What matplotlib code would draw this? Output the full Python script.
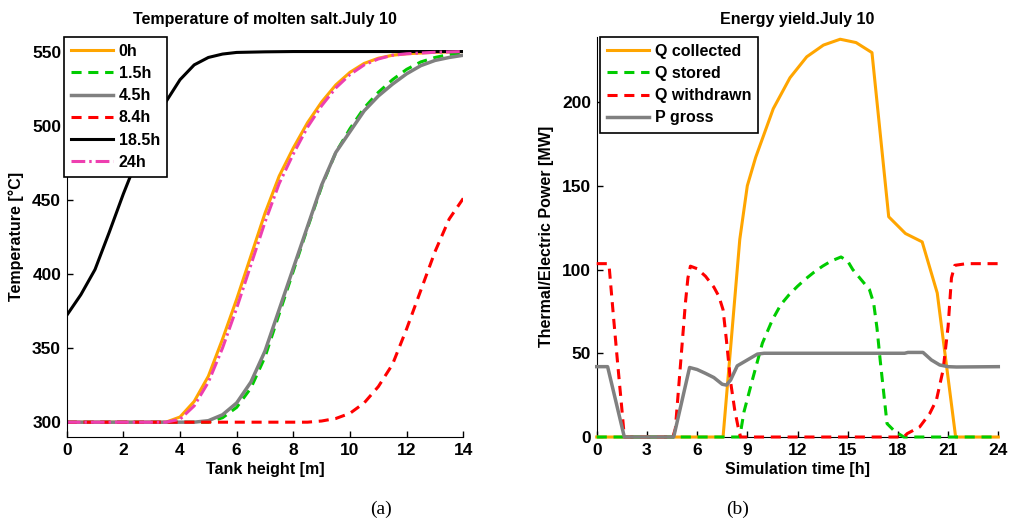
# Temperature profiles of molten salt and energy yield, July 10
import matplotlib
matplotlib.use("Agg")
from matplotlib import pyplot as plt

# ---- panel (a): tank temperature profiles ----
h_0h = [0, 1, 2, 3, 3.5, 4.0, 4.5, 5.0, 5.5, 6.0, 6.5, 7.0, 7.5, 8.0, 8.5, 9.0, 9.5,
        10.0, 10.5, 11.0, 11.5, 12.0, 13.0, 14.0]
t_0h = [300, 300, 300, 300, 300, 303.5, 314, 331, 356, 383, 412, 441, 466, 485, 502, 516, 527.5,
        536, 542, 545.5, 547.5, 548.5, 549.5, 550]

h_1p5h = [0, 2, 4, 5.0, 5.5, 6.0, 6.5, 7.0, 7.5, 8.0, 8.5, 9.0, 9.5, 10.0, 10.5, 11.0, 11.5,
          12.0, 12.5, 13.0, 13.5, 14.0]
t_1p5h = [300, 300, 300, 300, 303, 310, 323, 344, 373, 402, 431, 459, 482, 498, 512, 522.5, 531,
          538, 543, 546, 548, 549]

h_4p5h = [0, 2, 4, 4.5, 5.0, 5.5, 6.0, 6.5, 7.0, 7.5, 8.0, 8.5, 9.0, 9.5, 10.0, 10.5, 11.0, 11.5,
          12.0, 12.5, 13.0, 13.5, 14.0]
t_4p5h = [300, 300, 300, 300, 301, 305, 313, 327, 348, 376, 404, 432, 460, 482, 496, 510, 520, 528,
          535, 540.5, 544, 546, 547.5]

h_8p4h = [0, 2, 4, 6, 8, 8.5, 9.0, 9.5, 10.0, 10.5, 11.0, 11.5, 12.0, 12.5, 13.0, 13.5, 14.0]
t_8p4h = [300, 300, 300, 300, 300, 300, 300.8, 302.5, 306, 313, 324, 339, 363, 389, 415, 437, 451]

h_18p5h = [0, 0.5, 1.0, 1.5, 2.0, 2.5, 3.0, 3.5, 4.0, 4.5, 5.0, 5.5, 6.0, 7.0, 8.0, 10.0, 12.0, 14.0]
t_18p5h = [372, 386, 403, 428, 454, 478, 497, 516, 531, 541, 546, 548.3, 549.4, 549.8, 550, 550, 550, 550]

h_24h = [0, 1, 2, 3, 3.5, 4.0, 4.5, 5.0, 5.5, 6.0, 6.5, 7.0, 7.5, 8.0, 8.5, 9.0, 9.5,
         10.0, 10.5, 11.0, 11.5, 12.0, 13.0, 14.0]
t_24h = [300, 300, 300, 300, 300, 302, 311, 327, 350, 377, 406, 435, 461, 481, 499, 513.5, 525.5,
         534.5, 541, 545, 547.5, 548.5, 549.5, 550]

# ---- panel (b): energy yield ----
time_col = [0, 7.55, 8.55, 9.0, 9.5, 10.55, 11.55, 12.55, 13.55, 14.55, 15.5, 16.45, 17.45,
            18.45, 19.45, 20.35, 21.45, 24]
q_col = [0, 0, 118, 150, 167, 196, 214.5, 227, 234, 237.5, 235.5, 229.5, 131.5,
         121.5, 116.5, 86, 0, 0]

time_sto = [0, 8.55, 8.8, 9.3, 9.9, 10.5, 11.0, 11.5, 12.0, 12.5, 13.0, 13.5, 14.0, 14.6, 15.0,
            15.3, 15.8, 16.3, 16.55, 16.75, 16.95, 17.35, 17.8, 18.35, 24]
q_sto = [0, 0, 15, 34, 56, 70, 79, 85, 90, 94.5, 98.5, 102, 105, 107.5, 105,
         100, 94, 88, 80, 65, 45, 8, 3.5, 0, 0]

time_wd = [0, 0.7, 0.75, 1.0, 1.25, 1.5, 1.65, 4.55, 4.7, 4.9, 5.1, 5.3, 5.45, 5.6, 6.0, 6.5,
           7.0, 7.3, 7.55, 7.75, 8.0, 8.25, 8.45, 8.6, 18.35, 18.55, 19.3, 19.9, 20.3, 20.7,
           21.0, 21.2, 21.4, 22.1, 24]
q_wd = [103.5, 103.5, 101, 72, 44, 17, 0, 0, 5, 30, 55, 80, 95, 102, 100.5, 96,
        89.5, 84, 76, 58, 33, 16, 6, 0, 0, 2, 6, 14, 22, 40,
        66, 95, 102.5, 103.5, 103.5]

time_p = [0, 0.65, 1.65, 4.6, 5.55, 6.0, 6.5, 7.0, 7.5, 7.75, 8.0, 8.4, 9.0, 9.6, 10.0,
          18.4, 18.6, 19.5, 20.0, 20.5, 21.0, 21.5, 24]
p_gross = [42, 42, 0, 0, 41.5, 40.3, 38, 35.5, 31.5, 31, 34, 42.5, 46, 49.5, 50,
           50, 50.5, 50.5, 46, 43, 42, 41.8, 42]

x_ticks_b = [0, 3, 6, 9, 12, 15, 18, 21, 24]

font = 'Liberation Sans'
plt.rcParams['font.family'] = [font, 'DejaVu Sans']
plt.rcParams['font.weight'] = 'bold'

lw = 2.2
dash = (0, (3.3, 2.2))
dashdot = (0, (4.5, 1.3, 0.8, 1.3))

fig = plt.figure(figsize=(10.09, 5.2), dpi=100)
ax1 = fig.add_axes([0.0661, 0.1596, 0.3931, 0.7698])
ax2 = fig.add_axes([0.5914, 0.1596, 0.3980, 0.7698])

ax1.plot(h_0h, t_0h, color='#FFA500', lw=lw, label='0h')
ax1.plot(h_1p5h, t_1p5h, color='#00CC00', lw=lw, ls=dash, label='1.5h')
ax1.plot(h_4p5h, t_4p5h, color='#808080', lw=lw + 0.3, label='4.5h')
ax1.plot(h_8p4h, t_8p4h, color='#FF0000', lw=lw, ls=dash, label='8.4h')
ax1.plot(h_18p5h, t_18p5h, color='black', lw=lw, label='18.5h')
ax1.plot(h_24h, t_24h, color='#EE3FB0', lw=lw, ls=dashdot, label='24h')

ax1.set_xlim(0, 14)
ax1.set_ylim(290, 560)
ax1.set_xticks(range(0, 15, 2))
ax1.set_yticks(range(300, 551, 50))
ax1.set_xlabel('Tank height [m]', fontsize=11.5, fontweight='bold', labelpad=3)
ax1.set_ylabel('Temperature [°C]', fontsize=11.5, fontweight='bold', labelpad=6)
ax1.set_title('Temperature of molten salt.July 10', fontsize=11.5, fontweight='bold', pad=9)

ax2.plot(time_col, q_col, color='#FFA500', lw=lw, label='Q collected', clip_on=False, zorder=3)
ax2.plot(time_sto, q_sto, color='#00CC00', lw=lw, ls=dash, label='Q stored', clip_on=False, zorder=3)
ax2.plot(time_wd, q_wd, color='#FF0000', lw=lw, ls=dash, label='Q withdrawn', clip_on=False, zorder=3)
ax2.plot(time_p, p_gross, color='#808080', lw=lw + 0.3, label='P gross', clip_on=False, zorder=3)

ax2.set_xlim(0, 24)
ax2.set_ylim(0, 239)
ax2.set_xticks(x_ticks_b)
ax2.set_yticks([0, 50, 100, 150, 200])
ax2.set_xlabel('Simulation time [h]', fontsize=11.5, fontweight='bold', labelpad=3)
ax2.set_ylabel('Thermal/Electric Power [MW]', fontsize=11.5, fontweight='bold', labelpad=6)
ax2.set_title('Energy yield.July 10', fontsize=11.5, fontweight='bold', pad=9)

for ax in (ax1, ax2):
    ax.spines['top'].set_visible(False)
    ax.spines['right'].set_visible(False)
    ax.tick_params(direction='in', length=4, width=1, labelsize=12.5, pad=4)
    for lab in ax.get_xticklabels() + ax.get_yticklabels():
        lab.set_fontweight('bold')

leg_kw = dict(frameon=True, fancybox=False, framealpha=1, edgecolor='black',
              fontsize=11.5, handlelength=2.6, handletextpad=0.38, labelspacing=0.45,
              borderpad=0.45, borderaxespad=0, loc='upper left')
l1 = ax1.legend(bbox_to_anchor=(-0.007, 1.0), **leg_kw)
l2 = ax2.legend(bbox_to_anchor=(0.008, 1.0), **leg_kw)
for leg in (l1, l2):
    leg.get_frame().set_linewidth(1.2)
    for txt in leg.get_texts():
        txt.set_fontweight('bold')

fig.text(381 / 1009, 1 - 509 / 520, '(a)', family='Liberation Serif', fontsize=14,
         ha='center', va='center', fontweight='normal')
fig.text(738 / 1009, 1 - 509 / 520, '(b)', family='Liberation Serif', fontsize=14,
         ha='center', va='center', fontweight='normal')

plt.savefig('out.png', dpi=100)
